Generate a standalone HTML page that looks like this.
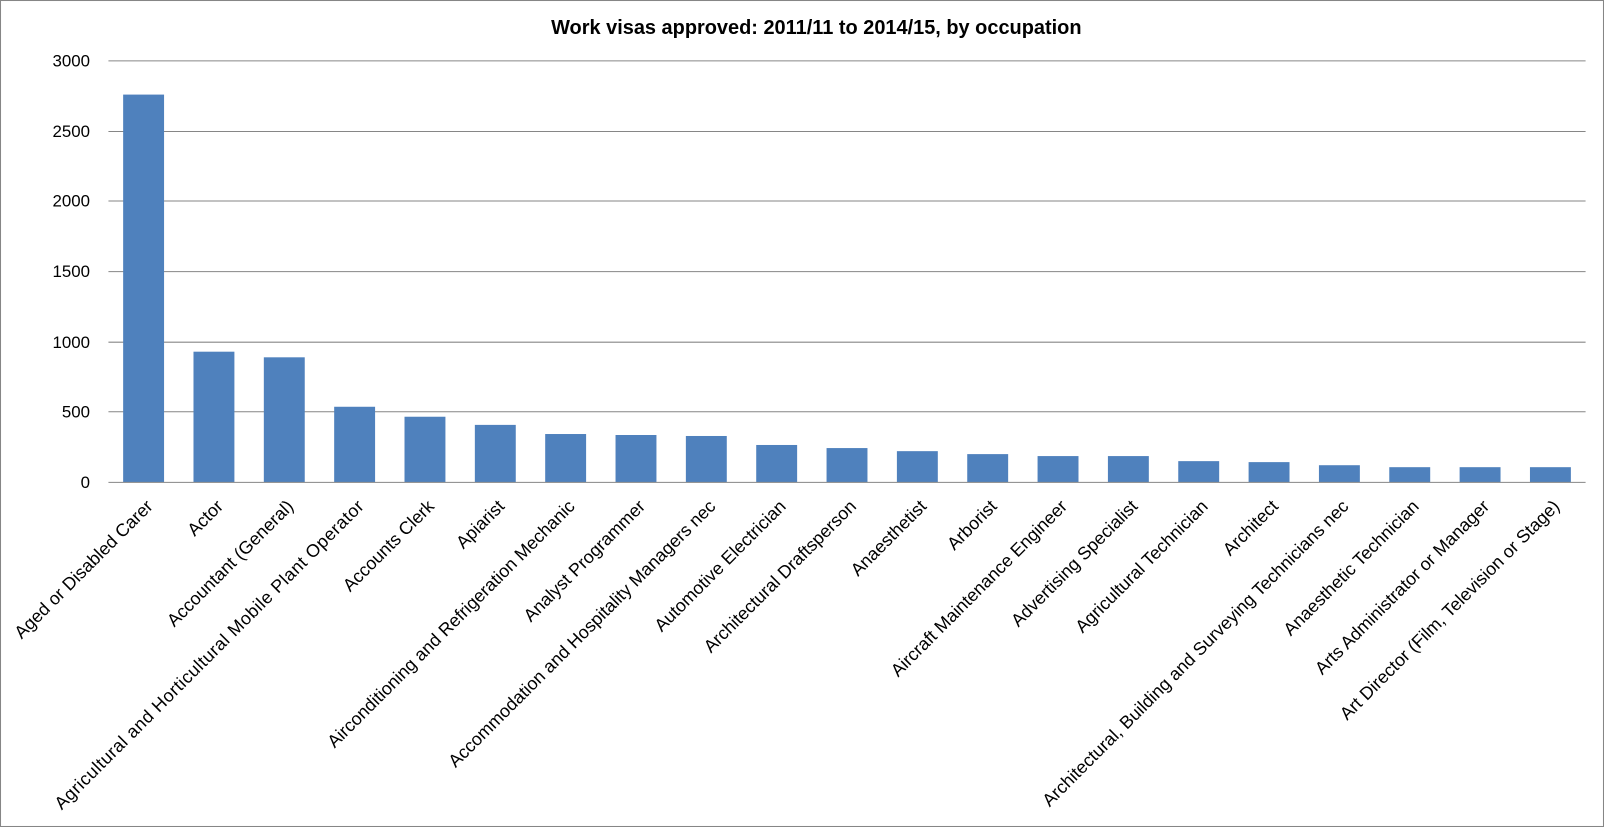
<!DOCTYPE html>
<html><head><style>body{margin:0;background:#fff}svg{display:block;font-family:"Liberation Sans",Arial,sans-serif}</style></head>
<body>
<svg width="1604" height="827" viewBox="0 0 1568 808.4" preserveAspectRatio="none">
<rect x="0.5" y="0.5" width="1567" height="807.4" fill="#fff" stroke="#868686"/>
<text x="798" y="33" text-anchor="middle" font-size="19.5" font-weight="bold">Work visas approved: 2011/11 to 2014/15, by occupation</text>
<g stroke="#868686" stroke-width="1">
<line x1="106" x2="1550" y1="59.5" y2="59.5"/>
<line x1="106" x2="1550" y1="128.5" y2="128.5"/>
<line x1="106" x2="1550" y1="196.5" y2="196.5"/>
<line x1="106" x2="1550" y1="265.5" y2="265.5"/>
<line x1="106" x2="1550" y1="334.5" y2="334.5"/>
<line x1="106" x2="1550" y1="402.5" y2="402.5"/>
</g>
<g font-size="16.5" text-anchor="end" fill="#000">
<text x="88" y="65">3000</text><text x="88" y="134">2500</text><text x="88" y="202">2000</text>
<text x="88" y="271">1500</text><text x="88" y="340">1000</text><text x="88" y="408">500</text><text x="88" y="477">0</text>
</g>
<g id="bars" fill="#4f81bd"></g>
<line x1="106" x2="1550" y1="471.5" y2="471.5" stroke="#868686"/>
<g id="labels" font-size="17.5" fill="#000"></g>
<script>
var v=[2760,930,890,538,467,409,344,337,330,266,244,222,201,187,187,151,144,122,108,108,108];
var n=["Aged or Disabled Carer","Actor","Accountant (General)","Agricultural and Horticultural Mobile Plant Operator","Accounts Clerk","Apiarist","Airconditioning and Refrigeration Mechanic","Analyst Programmer","Accommodation and Hospitality Managers nec","Automotive Electrician","Architectural Draftsperson","Anaesthetist","Arborist","Aircraft Maintenance Engineer","Advertising Specialist","Agricultural Technician","Architect","Architectural, Building and Surveying Technicians nec","Anaesthetic Technician","Arts Administrator or Manager","Art Director (Film, Television or Stage)"];
var ns="http://www.w3.org/2000/svg",b=document.getElementById("bars"),l=document.getElementById("labels");
var w=(1550-106)/21,sc=412/3000;
for(var i=0;i<21;i++){var c=106+(i+0.5)*w,h=v[i]*sc;
var r=document.createElementNS(ns,"rect");r.setAttribute("x",c-20);r.setAttribute("width",40);r.setAttribute("y",471.5-h);r.setAttribute("height",h);b.appendChild(r);
var t=document.createElementNS(ns,"text");t.setAttribute("text-anchor","end");t.setAttribute("transform","translate("+(c+10)+",496) rotate(-45)");
if(i==3){t.setAttribute("textLength","419");t.setAttribute("lengthAdjust","spacing");}
t.textContent=n[i];l.appendChild(t);}
</script>
</svg>
</body></html>
